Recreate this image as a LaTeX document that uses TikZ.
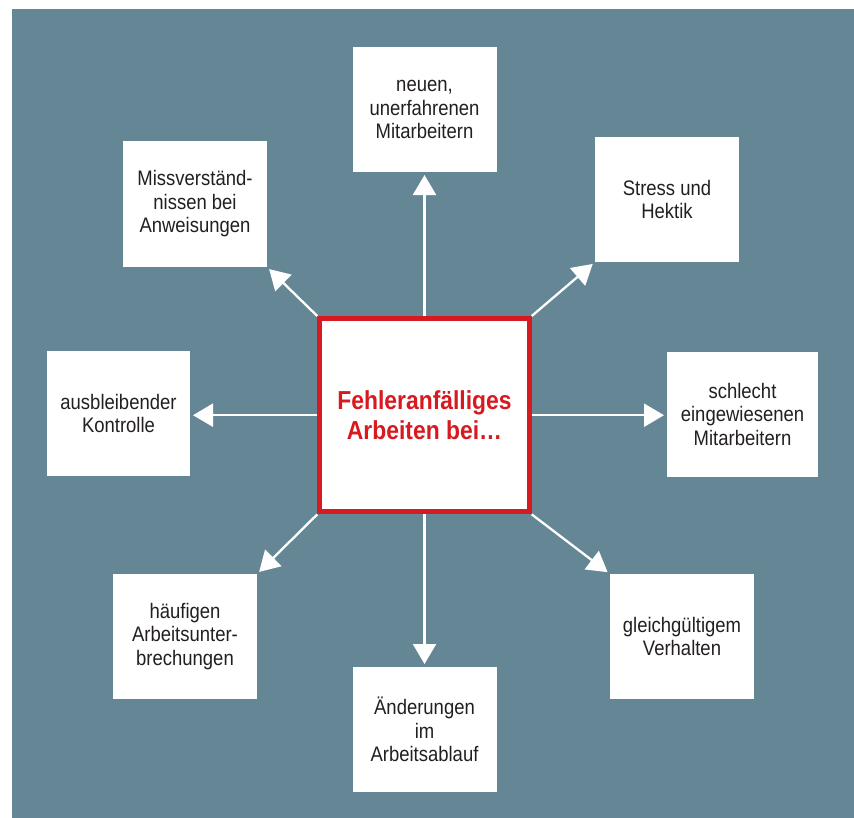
\documentclass[tikz,border=0pt]{standalone}
\usepackage{fontspec}
\setmainfont{Liberation Sans}[FakeStretch=0.88]
\usetikzlibrary{arrows.meta}

\definecolor{slate}{RGB}{101,135,149}
\definecolor{signalred}{RGB}{215,25,32}
\definecolor{ink}{RGB}{35,31,32}

\tikzset{
  causebox/.style={fill=white, draw=none, inner sep=0pt, outer sep=0pt,
    align=center, text=ink, minimum width=144bp, minimum height=125bp,
    font=\fontsize{21bp}{23.5bp}\selectfont},
  corebox/.style={fill=white, draw=signalred, line width=5bp, inner sep=0pt,
    align=center, text=signalred, minimum width=209.4bp, minimum height=193.3bp,
    font=\bfseries\fontsize{26bp}{30bp}\selectfont},
  link/.style={draw=white, line width=2.3bp,
    -{Triangle[length=20bp,width=23bp]}, shorten >=3bp}
}

\begin{document}
\begin{tikzpicture}[x=1bp, y=-1bp]
  \useasboundingbox (0,0) rectangle (854,818);
  \fill[slate] (12,9) rectangle (854,818);

  % central statement
  \node[corebox] (core) at (424.5,415.2) {Fehleranfälliges\\Arbeiten bei\ldots};

  % surrounding causes
  \node[causebox] (n)  at (424.5,109.5)  {neuen,\\unerfahrenen\\Mitarbeitern};
  \node[causebox] (ne) at (667,199.5)  {Stress und\\Hektik};
  \node[causebox, minimum width=151bp] (e) at (742.5,414) {schlecht\\eingewiesenen\\Mitarbeitern};
  \node[causebox] (se) at (682,636.5)  {gleichgültigem\\Verhalten};
  \node[causebox] (s)  at (424.5,729.5)  {Änderungen\\im\\Arbeitsablauf};
  \node[causebox] (sw) at (185,636.5)  {häufigen\\Arbeitsunter-\\brechungen};
  \node[causebox, minimum width=143bp] (w) at (118.5,413.5) {ausbleibender\\Kontrolle};
  \node[causebox, minimum height=126bp] (nw) at (195,204) {Missverständ-\\nissen bei\\Anweisungen};

  % connectors
  \draw[link] (core.north) -- (n.south);
  \draw[link] (core.south) -- (s.north);
  \draw[link] (core.east) -- (core.east -| e.west);
  \draw[link] (core.west) -- (core.west -| w.east);
  \draw[link] (core.north east) -- (ne.south west);
  \draw[link] (core.south east) -- (se.north west);
  \draw[link] (core.south west) -- (sw.north east);
  \draw[link] (core.north west) -- (nw.south east);
\end{tikzpicture}
\end{document}
